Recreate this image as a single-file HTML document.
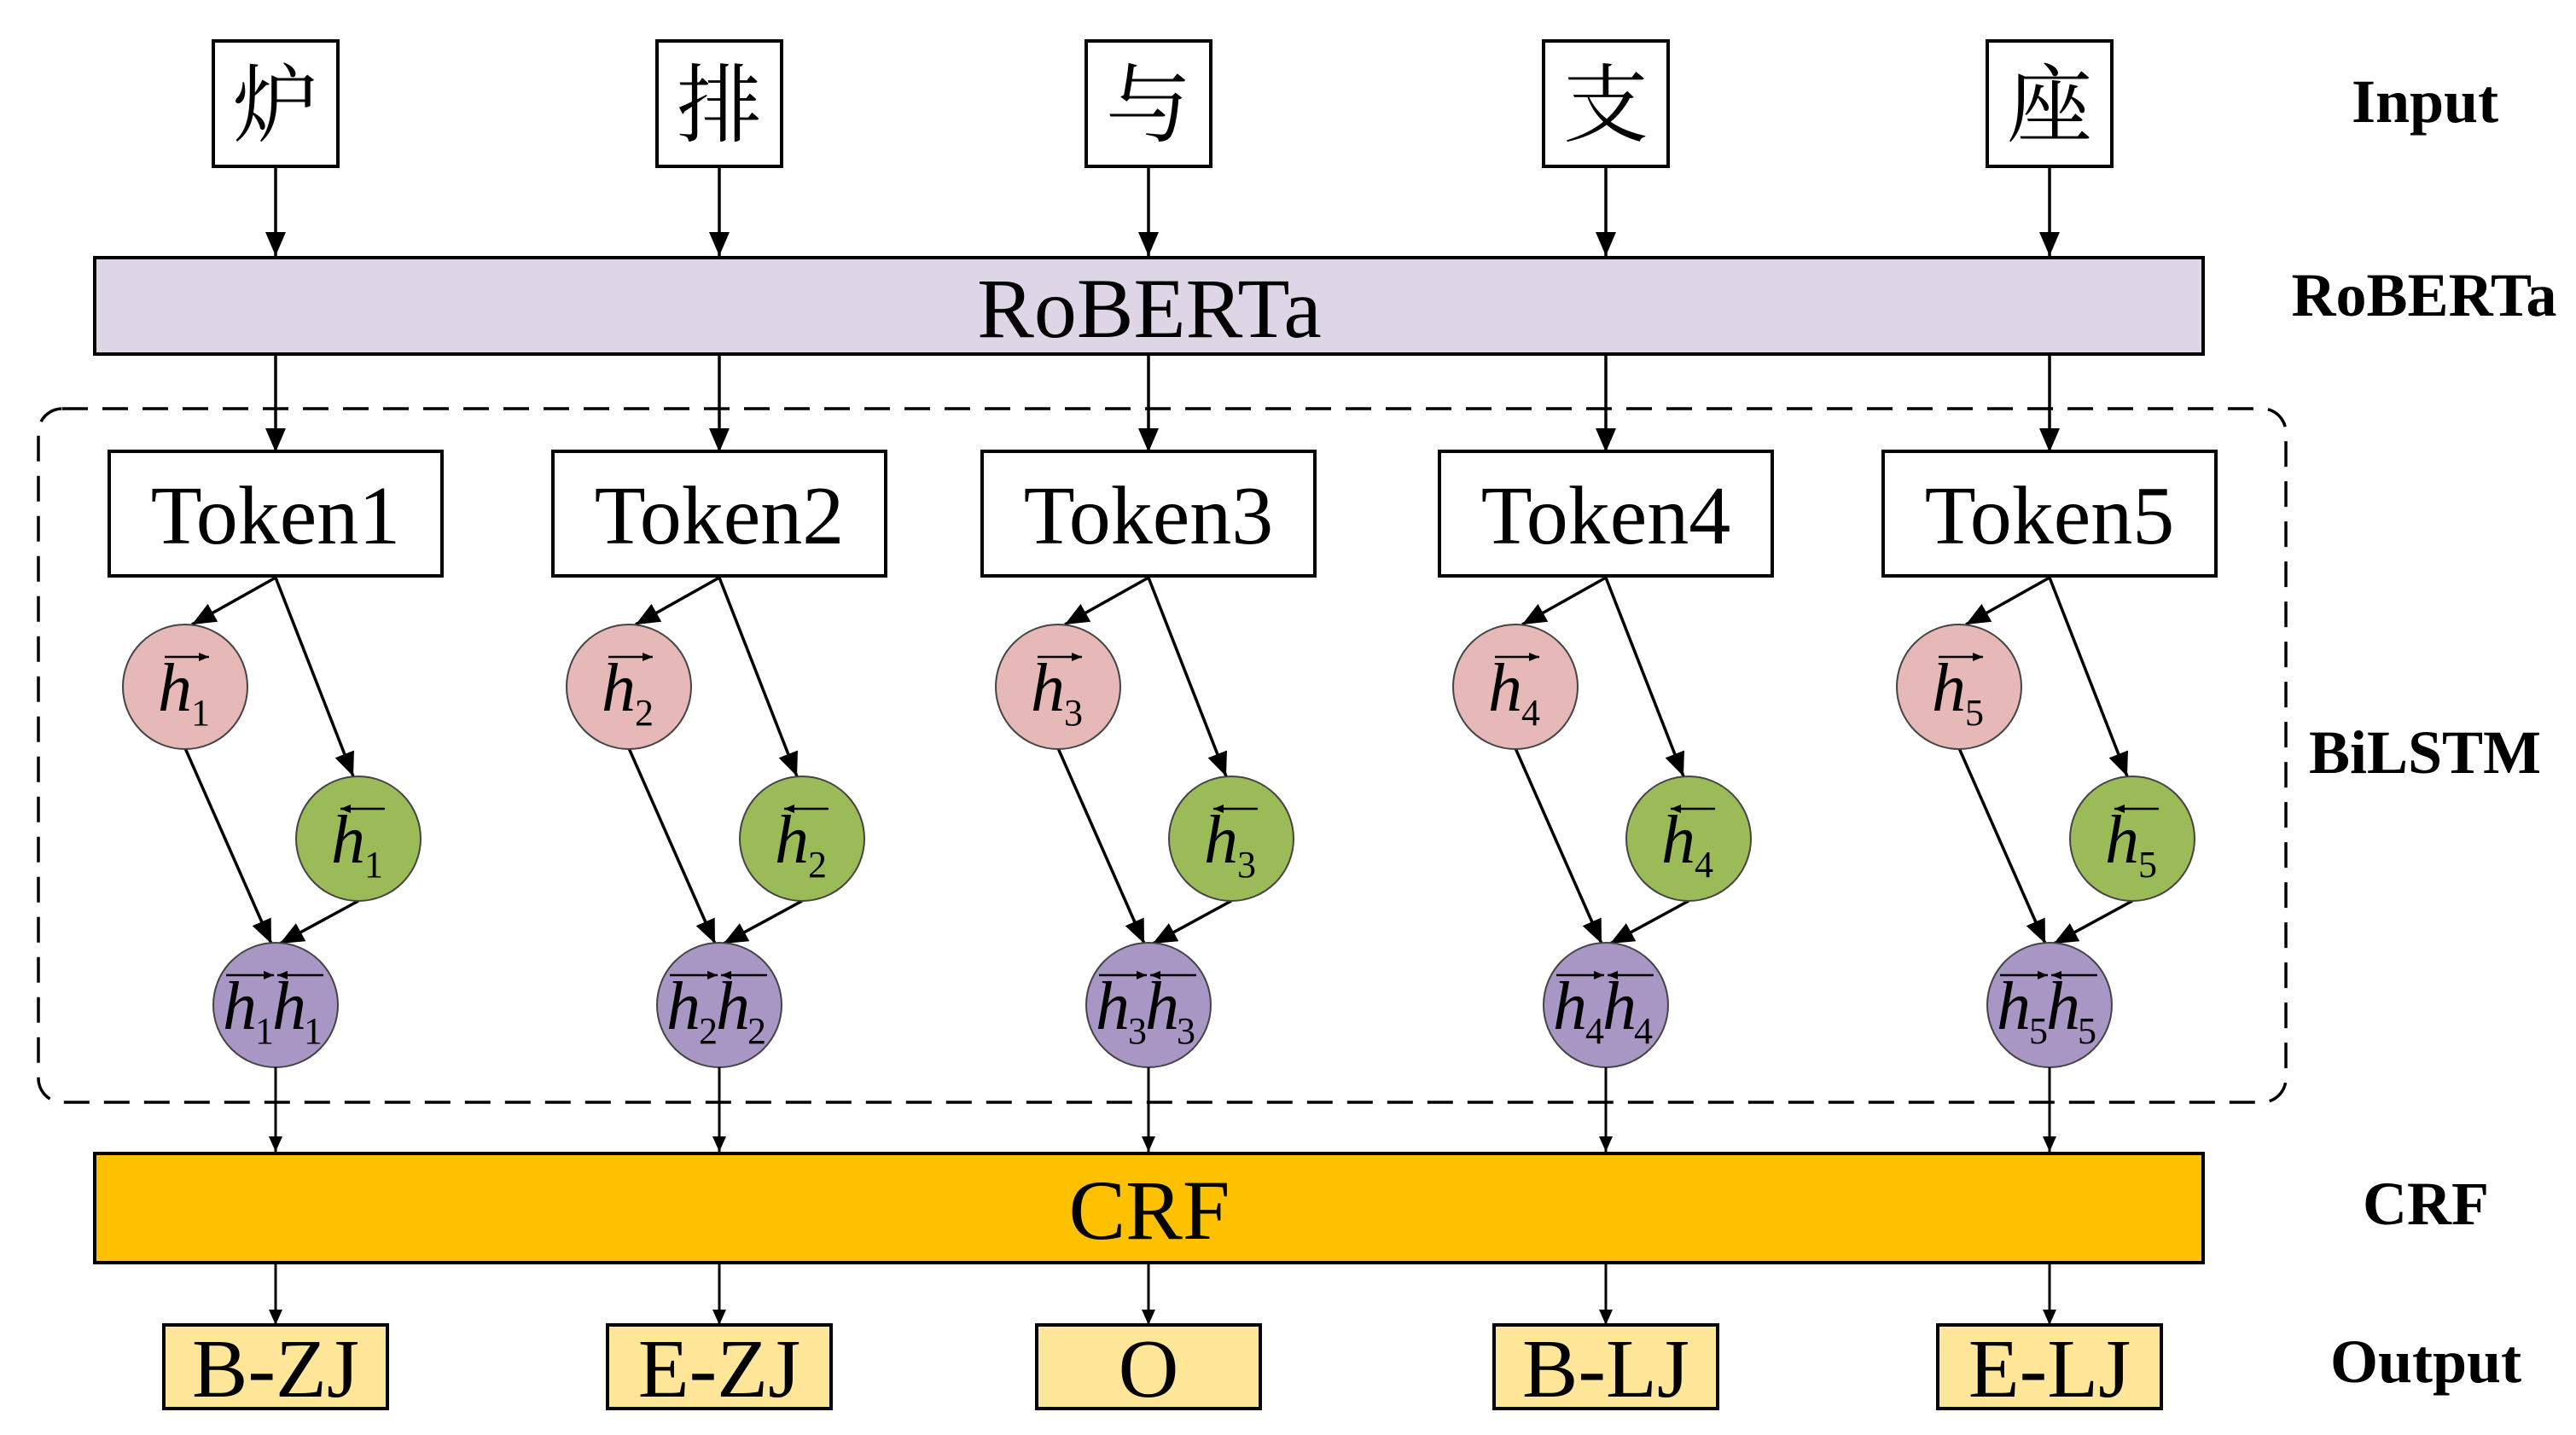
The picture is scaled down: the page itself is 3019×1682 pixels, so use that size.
<!DOCTYPE html>
<html><head><meta charset="utf-8"><style>
html,body{margin:0;padding:0;background:#fff;}
svg{display:block}
.t{font-family:"Liberation Serif","Noto Serif CJK SC",serif;fill:#000;text-anchor:middle}
.b{font-family:"Liberation Serif",serif;font-weight:bold;text-anchor:middle;font-size:72px}
.h{font-family:"Liberation Serif",serif;font-style:italic;font-size:80px}
.s{font-family:"Liberation Serif",serif;font-size:44px}
line{stroke:#000;stroke-width:3.5}
line.m{marker-end:url(#A)}
line.n{marker-end:url(#a);stroke-width:3}
line.o{marker-end:url(#s);stroke-width:2.5}
.box{fill:#fff;stroke:#000;stroke-width:4}
.out{fill:#ffe699;stroke:#000;stroke-width:4}
.p{fill:#e6b8b7;stroke:#444;stroke-width:2}
.g{fill:#9bbb59;stroke:#444;stroke-width:2}
.u{fill:#a896c4;stroke:#444;stroke-width:2}
</style></head><body>
<svg width="3019" height="1682" viewBox="0 0 3019 1682" xmlns="http://www.w3.org/2000/svg">
<defs>
<marker id="a" viewBox="0 0 10 10" refX="10" refY="5" markerWidth="18" markerHeight="16" markerUnits="userSpaceOnUse" orient="auto" preserveAspectRatio="none"><path d="M0,0 L10,5 L0,10 z" fill="#000"/></marker>
<marker id="A" viewBox="0 0 10 10" refX="10" refY="5" markerWidth="28" markerHeight="24" markerUnits="userSpaceOnUse" orient="auto" preserveAspectRatio="none"><path d="M0,0 L10,5 L0,10 z" fill="#000"/></marker>
<marker id="s" viewBox="0 0 10 10" refX="10" refY="5" markerWidth="12" markerHeight="10" markerUnits="userSpaceOnUse" orient="auto" preserveAspectRatio="none"><path d="M0,0 L10,5 L0,10 z" fill="#000"/></marker>
</defs>

<rect x="45" y="479" width="2634" height="813" rx="28" fill="none" stroke="#000" stroke-width="3.5" stroke-dasharray="30,17"/>

<rect x="111" y="302" width="2471" height="113" fill="#ded5e6" stroke="#000" stroke-width="4"/>
<text class="t" x="1347" y="395" font-size="100">RoBERTa</text>
<rect x="111" y="1352" width="2471" height="128" fill="#fec100" stroke="#000" stroke-width="4"/>
<text class="t" x="1347" y="1452" font-size="100">CRF</text>

<text class="b" x="2842" y="143">Input</text>
<text class="b" x="2841" y="370">RoBERTa</text>
<text class="b" x="2842" y="906">BiLSTM</text>
<text class="b" x="2843" y="1435">CRF</text>
<text class="b" x="2843" y="1620">Output</text>

<g transform="translate(323,0)">
<rect class="box" x="-73" y="48" width="146" height="147"/><text class="t" x="0" y="158" font-size="100">炉</text>
<line class="m" x1="0" y1="195" x2="0" y2="300"/><line class="m" x1="0" y1="415" x2="0" y2="530"/>
<rect class="box" x="-195" y="529" width="390" height="146"/><text class="t" x="0" y="637" font-size="98">Token1</text>
<line class="m" x1="0" y1="677" x2="-98" y2="732"/><line class="m" x1="0" y1="677" x2="91" y2="910"/>
<line class="m" x1="-106" y1="877" x2="-5" y2="1106"/><line class="m" x1="97" y1="1056" x2="5" y2="1106"/>
<circle class="p" cx="-106" cy="805" r="73"/><circle class="g" cx="97" cy="983" r="73"/><circle class="u" cx="0" cy="1178" r="73"/>
<text class="h" x="-138" y="833">h</text><text class="s" x="-99" y="850">1</text><line class="o" x1="-130" y1="770" x2="-78" y2="770"/>
<text class="h" x="65" y="1011">h</text><text class="s" x="104" y="1028">1</text><line class="o" x1="128" y1="948" x2="76" y2="948"/>
<text class="h" x="-62" y="1206">h</text><text class="s" x="-24" y="1223">1</text><text class="h" x="-4" y="1206">h</text><text class="s" x="33" y="1223">1</text>
<line class="o" x1="-58" y1="1143" x2="-2" y2="1143"/><line class="o" x1="56" y1="1143" x2="2" y2="1143"/>
<line class="n" x1="0" y1="1251" x2="0" y2="1350"/><line class="n" x1="0" y1="1480" x2="0" y2="1553"/>
<rect class="out" x="-131" y="1553" width="262" height="98"/><text class="t" x="0" y="1637" font-size="98">B-ZJ</text>
</g>

<g transform="translate(843,0)">
<rect class="box" x="-73" y="48" width="146" height="147"/><text class="t" x="0" y="158" font-size="100">排</text>
<line class="m" x1="0" y1="195" x2="0" y2="300"/><line class="m" x1="0" y1="415" x2="0" y2="530"/>
<rect class="box" x="-195" y="529" width="390" height="146"/><text class="t" x="0" y="637" font-size="98">Token2</text>
<line class="m" x1="0" y1="677" x2="-98" y2="732"/><line class="m" x1="0" y1="677" x2="91" y2="910"/>
<line class="m" x1="-106" y1="877" x2="-5" y2="1106"/><line class="m" x1="97" y1="1056" x2="5" y2="1106"/>
<circle class="p" cx="-106" cy="805" r="73"/><circle class="g" cx="97" cy="983" r="73"/><circle class="u" cx="0" cy="1178" r="73"/>
<text class="h" x="-138" y="833">h</text><text class="s" x="-99" y="850">2</text><line class="o" x1="-130" y1="770" x2="-78" y2="770"/>
<text class="h" x="65" y="1011">h</text><text class="s" x="104" y="1028">2</text><line class="o" x1="128" y1="948" x2="76" y2="948"/>
<text class="h" x="-62" y="1206">h</text><text class="s" x="-24" y="1223">2</text><text class="h" x="-4" y="1206">h</text><text class="s" x="33" y="1223">2</text>
<line class="o" x1="-58" y1="1143" x2="-2" y2="1143"/><line class="o" x1="56" y1="1143" x2="2" y2="1143"/>
<line class="n" x1="0" y1="1251" x2="0" y2="1350"/><line class="n" x1="0" y1="1480" x2="0" y2="1553"/>
<rect class="out" x="-131" y="1553" width="262" height="98"/><text class="t" x="0" y="1637" font-size="98">E-ZJ</text>
</g>

<g transform="translate(1346,0)">
<rect class="box" x="-73" y="48" width="146" height="147"/><text class="t" x="0" y="158" font-size="100">与</text>
<line class="m" x1="0" y1="195" x2="0" y2="300"/><line class="m" x1="0" y1="415" x2="0" y2="530"/>
<rect class="box" x="-195" y="529" width="390" height="146"/><text class="t" x="0" y="637" font-size="98">Token3</text>
<line class="m" x1="0" y1="677" x2="-98" y2="732"/><line class="m" x1="0" y1="677" x2="91" y2="910"/>
<line class="m" x1="-106" y1="877" x2="-5" y2="1106"/><line class="m" x1="97" y1="1056" x2="5" y2="1106"/>
<circle class="p" cx="-106" cy="805" r="73"/><circle class="g" cx="97" cy="983" r="73"/><circle class="u" cx="0" cy="1178" r="73"/>
<text class="h" x="-138" y="833">h</text><text class="s" x="-99" y="850">3</text><line class="o" x1="-130" y1="770" x2="-78" y2="770"/>
<text class="h" x="65" y="1011">h</text><text class="s" x="104" y="1028">3</text><line class="o" x1="128" y1="948" x2="76" y2="948"/>
<text class="h" x="-62" y="1206">h</text><text class="s" x="-24" y="1223">3</text><text class="h" x="-4" y="1206">h</text><text class="s" x="33" y="1223">3</text>
<line class="o" x1="-58" y1="1143" x2="-2" y2="1143"/><line class="o" x1="56" y1="1143" x2="2" y2="1143"/>
<line class="n" x1="0" y1="1251" x2="0" y2="1350"/><line class="n" x1="0" y1="1480" x2="0" y2="1553"/>
<rect class="out" x="-131" y="1553" width="262" height="98"/><text class="t" x="0" y="1637" font-size="98">O</text>
</g>

<g transform="translate(1882,0)">
<rect class="box" x="-73" y="48" width="146" height="147"/><text class="t" x="0" y="158" font-size="100">支</text>
<line class="m" x1="0" y1="195" x2="0" y2="300"/><line class="m" x1="0" y1="415" x2="0" y2="530"/>
<rect class="box" x="-195" y="529" width="390" height="146"/><text class="t" x="0" y="637" font-size="98">Token4</text>
<line class="m" x1="0" y1="677" x2="-98" y2="732"/><line class="m" x1="0" y1="677" x2="91" y2="910"/>
<line class="m" x1="-106" y1="877" x2="-5" y2="1106"/><line class="m" x1="97" y1="1056" x2="5" y2="1106"/>
<circle class="p" cx="-106" cy="805" r="73"/><circle class="g" cx="97" cy="983" r="73"/><circle class="u" cx="0" cy="1178" r="73"/>
<text class="h" x="-138" y="833">h</text><text class="s" x="-99" y="850">4</text><line class="o" x1="-130" y1="770" x2="-78" y2="770"/>
<text class="h" x="65" y="1011">h</text><text class="s" x="104" y="1028">4</text><line class="o" x1="128" y1="948" x2="76" y2="948"/>
<text class="h" x="-62" y="1206">h</text><text class="s" x="-24" y="1223">4</text><text class="h" x="-4" y="1206">h</text><text class="s" x="33" y="1223">4</text>
<line class="o" x1="-58" y1="1143" x2="-2" y2="1143"/><line class="o" x1="56" y1="1143" x2="2" y2="1143"/>
<line class="n" x1="0" y1="1251" x2="0" y2="1350"/><line class="n" x1="0" y1="1480" x2="0" y2="1553"/>
<rect class="out" x="-131" y="1553" width="262" height="98"/><text class="t" x="0" y="1637" font-size="98">B-LJ</text>
</g>

<g transform="translate(2402,0)">
<rect class="box" x="-73" y="48" width="146" height="147"/><text class="t" x="0" y="158" font-size="100">座</text>
<line class="m" x1="0" y1="195" x2="0" y2="300"/><line class="m" x1="0" y1="415" x2="0" y2="530"/>
<rect class="box" x="-195" y="529" width="390" height="146"/><text class="t" x="0" y="637" font-size="98">Token5</text>
<line class="m" x1="0" y1="677" x2="-98" y2="732"/><line class="m" x1="0" y1="677" x2="91" y2="910"/>
<line class="m" x1="-106" y1="877" x2="-5" y2="1106"/><line class="m" x1="97" y1="1056" x2="5" y2="1106"/>
<circle class="p" cx="-106" cy="805" r="73"/><circle class="g" cx="97" cy="983" r="73"/><circle class="u" cx="0" cy="1178" r="73"/>
<text class="h" x="-138" y="833">h</text><text class="s" x="-99" y="850">5</text><line class="o" x1="-130" y1="770" x2="-78" y2="770"/>
<text class="h" x="65" y="1011">h</text><text class="s" x="104" y="1028">5</text><line class="o" x1="128" y1="948" x2="76" y2="948"/>
<text class="h" x="-62" y="1206">h</text><text class="s" x="-24" y="1223">5</text><text class="h" x="-4" y="1206">h</text><text class="s" x="33" y="1223">5</text>
<line class="o" x1="-58" y1="1143" x2="-2" y2="1143"/><line class="o" x1="56" y1="1143" x2="2" y2="1143"/>
<line class="n" x1="0" y1="1251" x2="0" y2="1350"/><line class="n" x1="0" y1="1480" x2="0" y2="1553"/>
<rect class="out" x="-131" y="1553" width="262" height="98"/><text class="t" x="0" y="1637" font-size="98">E-LJ</text>
</g>
</svg>
</body></html>
